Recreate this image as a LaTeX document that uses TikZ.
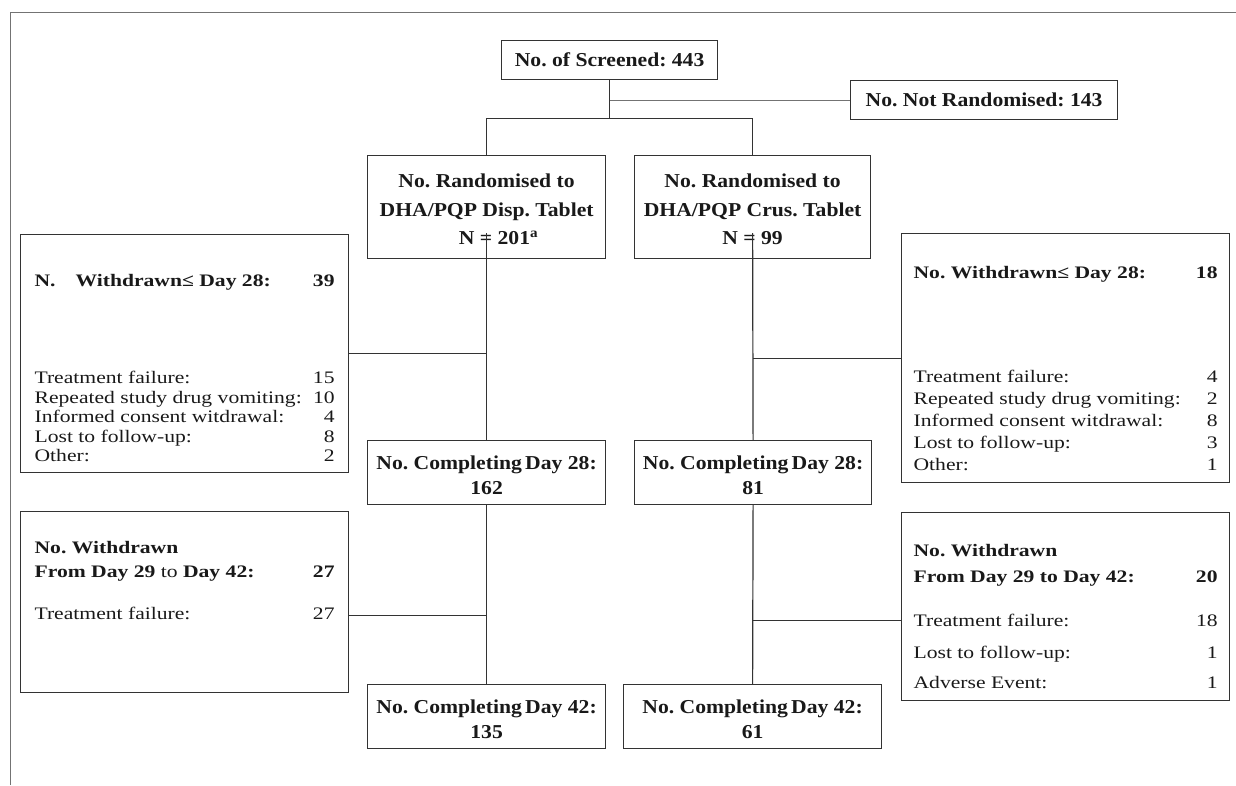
\documentclass[tikz,border=0pt]{standalone}
\usepackage{fontspec}
\setmainfont{Liberation Serif}[FakeStretch=1.23]
\newfontfamily\boxfamily{Liberation Serif}[FakeStretch=1.1]
\usepackage{tikz}
\usetikzlibrary{positioning}
\newcommand{\flowfont}{\frenchspacing\fontsize{12.5}{13.87}\selectfont}
\newcommand{\mainfont}{\frenchspacing\boxfamily\fontsize{14}{13.87}\selectfont}

\begin{document}
\begin{tikzpicture}[
  line width=0.85pt,
  box/.style={draw=black!80, inner sep=0pt, text=black!90},
  onebox/.style={box, font=\mainfont\bfseries, minimum height=0.975cm, align=center},
  mainbox/.style={box, font=\mainfont\bfseries, inner xsep=0.1cm, align=flush center},
  sidebox/.style={box, font=\flowfont, inner xsep=0.35cm, align=flush left, text width=7.5cm},
  link/.style={draw=black!80},
  thinlink/.style={draw=black!55, line width=0.6pt},
  frame/.style={draw=black!55, line width=0.6pt}
]
\useasboundingbox (0,0) rectangle (30.9,-19.625);
\draw[frame] (0.25,-19.625) |- (30.9,-0.3);
% screening
\node[onebox, minimum width=5.4cm, anchor=north west] (screen) at (12.525,-1.0) {No. of Screened: 443};
\node[onebox, minimum width=6.675cm, anchor=north west] (notrand) at (21.25,-2.0) {No. Not Randomised: 143};
% randomised arms
\node[mainbox, text width=5.75cm, text height=0.8cm, text depth=1.775cm, anchor=north west] (randL) at (9.175,-3.875)
  {No. Randomised to\\[0.225cm] DHA/PQP Disp. Tablet\\[0.225cm] \hspace*{0.6cm}N = 201\textsuperscript{a}};
\node[mainbox, text width=5.7cm, text height=0.8cm, text depth=1.775cm, anchor=north west] (randR) at (15.85,-3.875)
  {No. Randomised to\\[0.225cm] DHA/PQP Crus. Tablet\\[0.225cm] N = 99};
% completing
\node[mainbox, text width=5.75cm, text height=0.725cm, text depth=0.875cm, anchor=north west] (cmpL28) at (9.175,-11.0)
  {No. Completing\,Day 28:\\[0.1375cm] 162};
\node[mainbox, text width=5.725cm, text height=0.725cm, text depth=0.875cm, anchor=north west] (cmpR28) at (15.85,-11.0)
  {No. Completing\,Day 28:\\[0.1375cm] 81};
\node[mainbox, text width=5.75cm, text height=0.725cm, text depth=0.875cm, anchor=north west] (cmpL42) at (9.175,-17.1)
  {No. Completing\,Day 42:\\[0.1375cm] 135};
\node[mainbox, text width=6.25cm, text height=0.725cm, text depth=0.875cm, anchor=north west] (cmpR42) at (15.575,-17.1)
  {No. Completing\,Day 42:\\[0.1375cm] 61};
% withdrawals up to day 28
\node[sidebox, text height=1.3cm, text depth=4.65cm, anchor=north west] (wdL1) at (0.5,-5.85)
  {\textbf{N.\hspace{0.5cm}Withdrawn≤ Day 28:}\hfill\textbf{39}\\[1.9375cm]
   Treatment failure:\hfill 15\\
   Repeated study drug vomiting:\hfill 10\\
   Informed consent witdrawal:\hfill 4\\
   Lost to follow-up:\hfill 8\\
   Other:\hfill 2};
\node[sidebox, text width=7.6cm, inner xsep=0.3cm, text height=1.125cm, text depth=5.1cm, anchor=north west] (wdR1) at (22.525,-5.825)
  {\textbf{No. Withdrawn≤ Day 28:}\hfill\textbf{18}\\[2.1125cm]
   Treatment failure:\hfill 4\\[0.0625cm]
   Repeated study drug vomiting:\hfill 2\\[0.0625cm]
   Informed consent witdrawal:\hfill 8\\[0.0625cm]
   Lost to follow-up:\hfill 3\\[0.0625cm]
   Other:\hfill 1};
% withdrawals day 29 to 42
\node[sidebox, text height=1.05cm, text depth=3.475cm, anchor=north west] (wdL2) at (0.5,-12.775)
  {\textbf{No. Withdrawn}\\[0.1125cm]
   \textbf{From Day 29} to \textbf{Day 42:}\hfill\textbf{27}\\[0.5625cm]
   Treatment failure:\hfill 27};
\node[sidebox, text width=7.6cm, inner xsep=0.3cm, text height=1.1cm, text depth=3.6cm, anchor=north west] (wdR2) at (22.525,-12.8)
  {\textbf{No. Withdrawn}\\[0.1625cm]
   \textbf{From Day 29 to Day 42:}\hfill\textbf{20}\\[0.6125cm]
   Treatment failure:\hfill 18\\[0.3125cm]
   Lost to follow-up:\hfill 1\\[0.2625cm]
   Adverse Event:\hfill 1};
% flow lines
\draw[link] (screen.south) -- ++(0,-0.95) coordinate (split);
\draw[link] (randL.north) |- (split) -| (randR.north);
\draw[thinlink] (screen.south |- notrand.west) -- (notrand.west);
\draw[link] ([yshift=0.65cm]randL.south) -- (cmpL28.north);
\draw[link] (cmpL28.south) -- (cmpL42.north);
\draw[link] ([yshift=0.65cm]randR.south) -- (cmpR28.north);
\draw[link] (cmpR28.south) -- (cmpR42.north);
\draw[link] (wdL1.east) -- (wdL1.east -| randL.south);
\draw[link] (wdR1.west) -- (wdR1.west -| randR.south);
\coordinate (wL2) at ([yshift=-0.34cm]wdL2.east);
\draw[link] (wL2) -- (wL2 -| cmpL28.south);
\coordinate (wR2) at ([yshift=-0.35cm]wdR2.west);
\draw[link] (wR2) -- (wR2 -| cmpR28.south);
\end{tikzpicture}
\end{document}
